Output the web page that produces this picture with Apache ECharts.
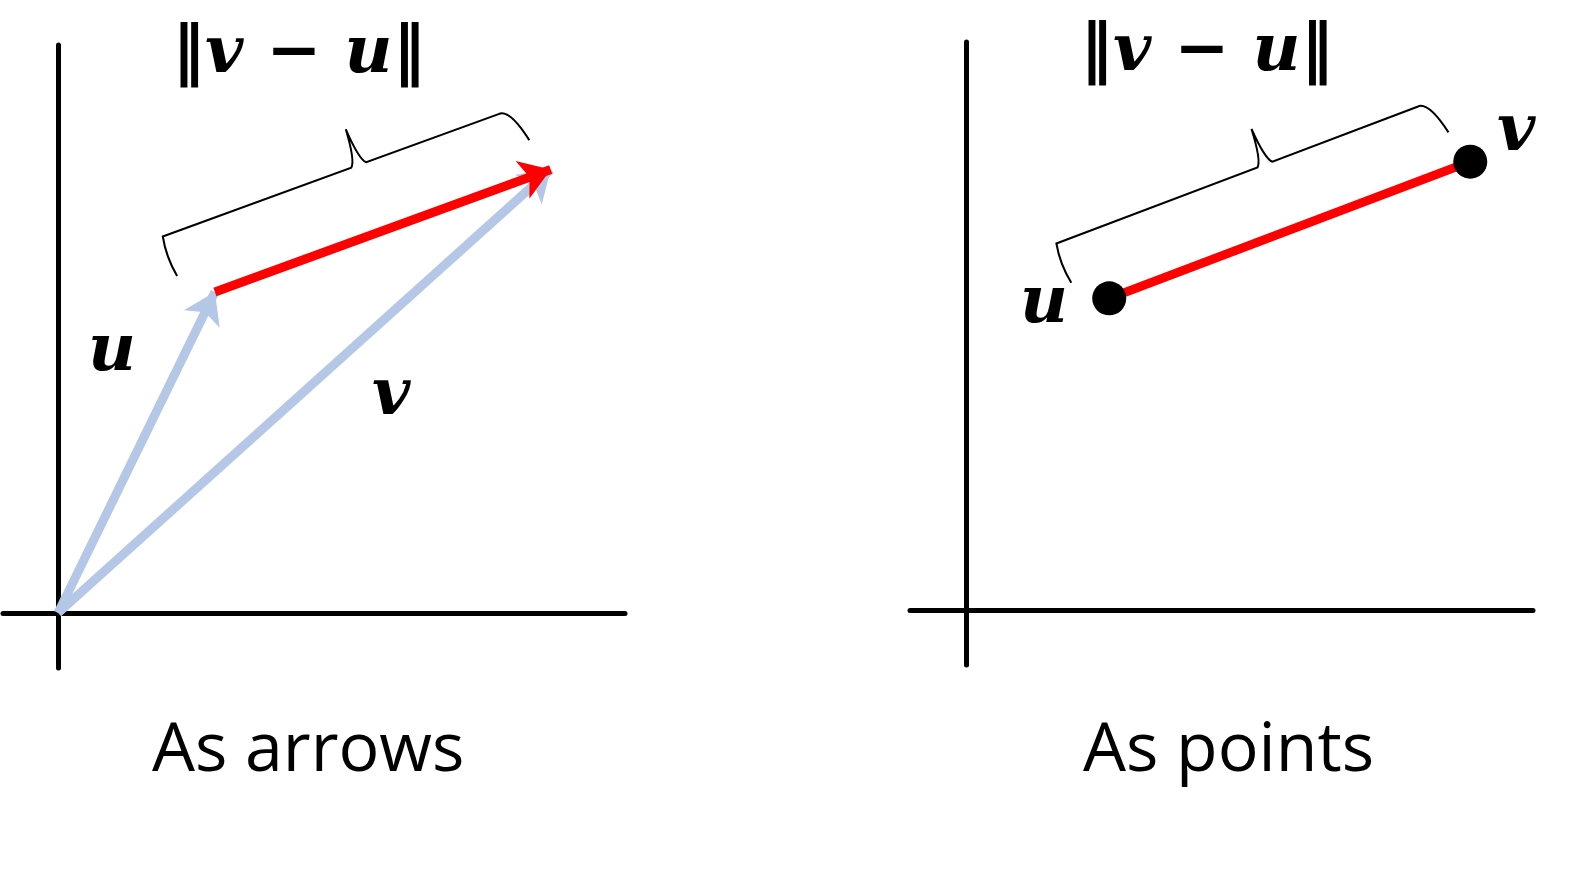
<!DOCTYPE html><html><head><meta charset="utf-8">
<script src="https://cdn.jsdelivr.net/npm/echarts@6/dist/echarts.min.js"></script>
<style>html,body{margin:0;background:#fff}#c{width:1595px;height:870px}</style></head>
<body><div id="c"></div><script>
const uArrows=[2.85,5.82], vArrows=[8.95,8.04];
const uPoints=[2.6,5.65], vPoints=[9.16,8.13];
const titles=['As arrows','As points'];
const normLabel='‖v − u‖';

const chart=echarts.init(document.getElementById('c'));
const ax=(gi,isX,min,max)=>({type:'value',gridIndex:gi,min,max,show:true,
  axisLine:{onZero:true,lineStyle:{color:'#000',width:5}},axisTick:{show:false},axisLabel:{show:false},splitLine:{show:false}});
function brace(gi,A,B){
  return {type:'custom',xAxisIndex:gi,yAxisIndex:gi,data:[[0]],silent:true,z:5,
    renderItem:(p,api)=>{
      const a=api.coord(A),b=api.coord(B);
      const dx=b[0]-a[0],dy=b[1]-a[1],L=Math.hypot(dx,dy);
      const t=[dx/L,dy/L]; let n=[dy/L,-dx/L]; if(n[1]>0)n=[-n[0],-n[1]];
      const P=(base,s,h)=>[base[0]+t[0]*s+n[0]*h,base[1]+t[1]*s+n[1]*h];
      const m=[(a[0]+b[0])/2,(a[1]+b[1])/2];
      const p1=P(a,-30,28),p2=P(a,-30,70),p3=P(m,-8,70),p4=P(m,0,108),p5=P(m,8,70),p6=P(b,-30,70),p7=P(b,-10,35);
      const c1=P(a,-34,50),c3=P(m,-2,75),c5=P(m,2,75),c6=P(b,-18,72);
      const f=q=>q[0].toFixed(1)+' '+q[1].toFixed(1);
      const d=`M${f(p1)} Q${f(c1)} ${f(p2)} L${f(p3)} Q${f(c3)} ${f(p4)} Q${f(c5)} ${f(p5)} L${f(p6)} Q${f(c6)} ${f(p7)}`;
      return {type:'path',shape:{pathData:d},style:{fill:null,stroke:'#000',lineWidth:2}};
    }};
}
const txt=(x,y,s,size,font,style,weight)=>({type:'text',left:x,top:y,style:{text:s,fontSize:size,fontFamily:font,fontStyle:style||'normal',fontWeight:weight||'normal',fill:'#000'}});
chart.setOption({
  animation:false,
  grid:[{left:3,top:45,width:622,height:623},{left:910,top:42,width:623,height:623}],
  xAxis:[ax(0,true,-1,10.3),ax(1,true,-1.02,10.3)],
  yAxis:[ax(0,false,-1,10.3),ax(1,false,-1,10.3)],
  series:[
    {type:'lines',coordinateSystem:'cartesian2d',xAxisIndex:0,yAxisIndex:0,z:3,symbol:['none','arrow'],symbolSize:30,
      lineStyle:{color:'#b4c7e7',width:9,opacity:1},
      data:[{coords:[[0,0],uArrows]},{coords:[[0,0],vArrows]}]},
    {type:'lines',coordinateSystem:'cartesian2d',xAxisIndex:0,yAxisIndex:0,z:4,symbol:['none','arrow'],symbolSize:30,
      lineStyle:{color:'#ff0000',width:9,opacity:1},data:[{coords:[uArrows,vArrows]}]},
    brace(0,uArrows,vArrows),
    {type:'lines',coordinateSystem:'cartesian2d',xAxisIndex:1,yAxisIndex:1,z:3,
      lineStyle:{color:'#ff0000',width:9,opacity:1},data:[{coords:[uPoints,vPoints]}]},
    {type:'scatter',xAxisIndex:1,yAxisIndex:1,z:10,symbolSize:34,itemStyle:{color:'#000',opacity:1},data:[uPoints,vPoints]},
    brace(1,uPoints,vPoints)
  ],
  graphic:[
    txt(172,22,normLabel,66,'DejaVu Serif','italic','bold'),
    txt(1080,20,normLabel,66,'DejaVu Serif','italic','bold'),
    txt(88,320,'u',66,'DejaVu Serif','italic','bold'),
    txt(372,364,'v',66,'DejaVu Serif','italic','bold'),
    txt(1020,272,'u',66,'DejaVu Serif','italic','bold'),
    txt(1497,100,'v',66,'DejaVu Serif','italic','bold'),
    txt(152,718,titles[0],68,'Open Sans'),
    txt(1083,718,titles[1],68,'Open Sans')
  ]
});
</script></body></html>
